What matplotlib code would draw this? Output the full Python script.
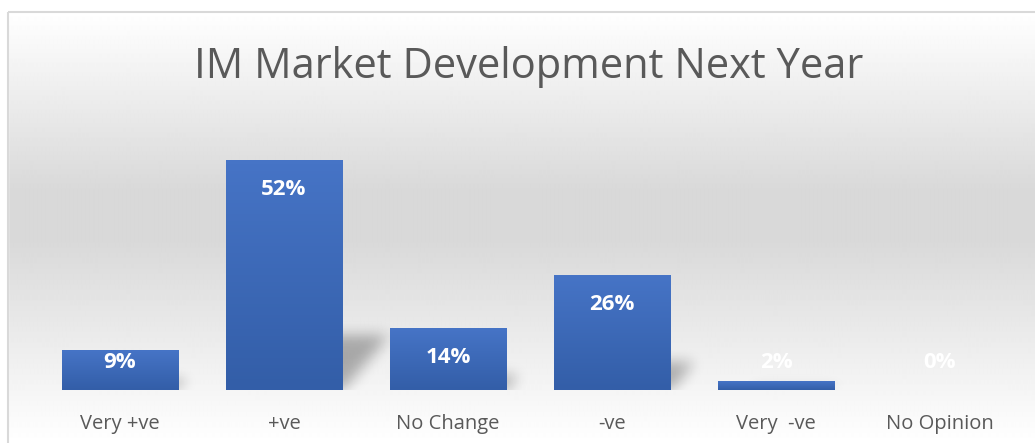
import numpy as np
import matplotlib
matplotlib.use("Agg")
import matplotlib.pyplot as plt
from matplotlib.colors import LinearSegmentedColormap
from matplotlib.patches import Rectangle
from matplotlib.path import Path

# Data
categories = ["Very +ve", "+ve", "No Change", "-ve", "Very  -ve", "No Opinion"]
values = [9, 52, 14, 26, 2, 0]
value_labels = ["9%", "52%", "14%", "26%", "2%", "0%"]
title = "IM Market Development Next Year"

W, H, DPI = 1035, 443, 100
FONT = "Open Sans"


def gauss_blur(a, sigma):
    r = int(3 * sigma)
    k = np.exp(-0.5 * (np.arange(-r, r + 1) / sigma) ** 2)
    k /= k.sum()
    a = np.apply_along_axis(lambda v: np.convolve(v, k, mode="same"), 0, a)
    a = np.apply_along_axis(lambda v: np.convolve(v, k, mode="same"), 1, a)
    return a


def main():
    fig = plt.figure(figsize=(W / DPI, H / DPI), dpi=DPI)

    # Background gradient (white -> grey -> white)
    bg = fig.add_axes([0, 0, 1, 1], zorder=-10)
    ys = np.arange(H)
    col = np.interp(ys, [0, 12, 190, 240, H], [1.0, 1.0, 0.85, 0.85, 1.0])
    img = np.repeat(col[:, None], 4, axis=1)
    bg.imshow(img, cmap="gray", vmin=0, vmax=1, aspect="auto",
              extent=[0, W, H, 0], interpolation="bilinear")
    bg.add_patch(Rectangle((0, 0), W, 12, color="white", zorder=2))
    bg.add_patch(Rectangle((0, 0), 8, H, color="white", zorder=2))
    bg.add_patch(Rectangle((8, 12), W + 20, H + 20, fill=False,
                           edgecolor="#d9d9d9", lw=1.5, zorder=3))
    bg.set_xlim(0, W)
    bg.set_ylim(H, 0)
    bg.axis("off")

    # Plot area
    base_px, top_px = 390, 130
    left_px, right_px = 38, 1022
    ax = fig.add_axes([left_px / W, (H - base_px) / H,
                       (right_px - left_px) / W, (base_px - top_px) / H])
    ax.patch.set_alpha(0)
    x = np.arange(len(categories))
    ymax = (base_px - top_px) / 4.42

    bars = ax.bar(x, values, width=0.71, color="#4472c4", zorder=3)

    px_x = len(categories) / (right_px - left_px)  # data units per px (x)
    px_y = ymax / (base_px - top_px)                # data units per px (y)

    grad = LinearSegmentedColormap.from_list("bar", ["#335ea8", "#4674c6"])
    shadow_cmap = LinearSegmentedColormap.from_list(
        "sh", [(0, 0, 0, 0), (0, 0, 0, 1)])
    for b in bars:
        x0, w, h = b.get_x(), b.get_width(), b.get_height()
        if h <= 0:
            continue
        h_px = h / px_y
        w_px = w / px_x
        # blurred perspective shadow, built in pixel space
        dx, dy = 0.2 * h_px, 0.24 * h_px
        pad = 30
        gw, gh = int(w_px + dx + 2 * pad), int(dy + pad)
        xs, yy = np.meshgrid(np.arange(gw) + 0.5, np.arange(gh) + 0.5)
        xl, xr = pad + 0.3 * w_px, pad + w_px
        poly = Path([(xl, 0), (xr, 0), (xr + dx, dy), (xl + dx, dy)])
        mask = poly.contains_points(np.c_[xs.ravel(), yy.ravel()]).reshape(gh, gw)
        sh = gauss_blur(mask.astype(float), 7) * 0.3
        ax.imshow(sh, cmap=shadow_cmap, vmin=0, vmax=1, origin="lower",
                  aspect="auto", interpolation="bilinear",
                  extent=[x0 - pad * px_x, x0 + (gw - pad) * px_x, 0, gh * px_y],
                  zorder=2)
        # vertical gradient fill
        gimg = np.linspace(0, 1, 64)[:, None]
        im = ax.imshow(gimg, cmap=grad, aspect="auto", origin="lower",
                       extent=[x0, x0 + w, 0, h], zorder=4)
        im.set_clip_path(b)

    # value labels (inside end, kept above the floor)
    for xi, v, lab in zip(x, values, value_labels):
        y = max(v, 12.7)
        ax.annotate(lab, xy=(xi, y), xytext=(0, -29), textcoords="offset pixels",
                    ha="center", va="center", color="white", fontsize=16,
                    fontweight="bold", family=FONT, zorder=6)

    ax.set_xticks(x)
    ax.set_xticklabels(categories, fontsize=14.5, color="#595959", family=FONT)
    ax.tick_params(axis="x", length=0, pad=17)
    ax.set_yticks([])
    for s in ax.spines.values():
        s.set_visible(False)
    ax.set_xlim(-0.5, len(categories) - 0.5)
    ax.set_ylim(0, ymax)

    fig.text(529 / W, 1 - 67 / H, title, ha="center", va="center",
             fontsize=30, color="#595959", family=FONT)

    fig.savefig("out.png", dpi=DPI)
    plt.close(fig)


if __name__ == "__main__":
    main()
